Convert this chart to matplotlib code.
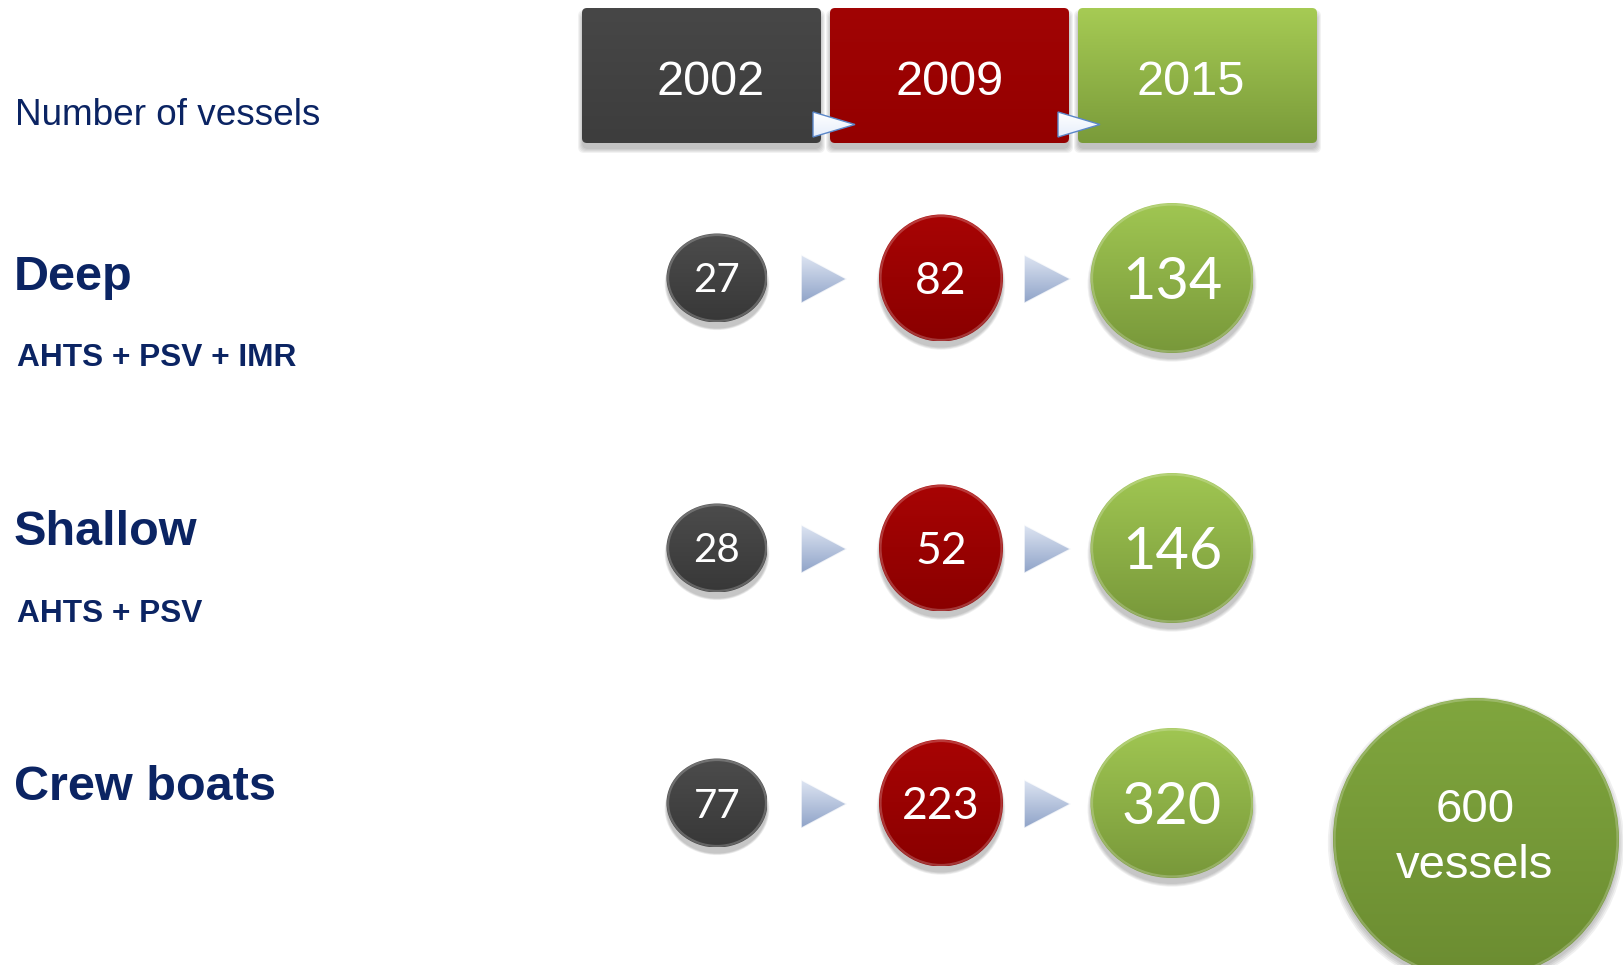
import numpy as np
import matplotlib
matplotlib.use("Agg")
import matplotlib.pyplot as plt
from matplotlib.patches import Ellipse, Polygon, FancyBboxPatch
from matplotlib.colors import to_rgb

# ---------------- data ----------------
years = ["2002", "2009", "2015"]
categories = ["Deep", "Shallow", "Crew boats"]
subtitles = ["AHTS + PSV + IMR", "AHTS + PSV", ""]
deep_values = [27, 82, 134]
shallow_values = [28, 52, 146]
crew_values = [77, 223, 320]
total_label = "600\nvessels"
header_label = "Number of vessels"

# ---------------- style ----------------
W, H = 1624, 965
NAVY = "#0b2463"
year_top = ["#474747", "#a10404", "#a6cb54"]
year_bot = ["#3d3d3d", "#940000", "#7a9b3a"]
circ_top = ["#4c4c4c", "#a80404", "#a0c652"]
circ_bot = ["#383838", "#8a0000", "#78983a"]

fig = plt.figure(figsize=(W / 100, H / 100), dpi=100)
ax = fig.add_axes([0, 0, 1, 1])
ax.set_xlim(0, W)
ax.set_ylim(H, 0)
ax.axis("off")


def grad_fill(patch, x0, x1, y0, y1, ctop, cbot, z):
    ax.add_patch(patch)
    t = np.linspace(0, 1, 128)[:, None, None]
    a, b = np.array(to_rgb(ctop)), np.array(to_rgb(cbot))
    img = a * (1 - t) + b * t
    im = ax.imshow(img, extent=[x0, x1, y1, y0], origin="upper",
                   interpolation="bilinear", zorder=z, aspect="auto")
    im.set_clip_path(patch)


def soft_shadow(cx, cy, w, h, z, dy=6, n=4, alpha=0.06):
    for k in range(n):
        s = 1 + 0.012 * k
        ax.add_patch(Ellipse((cx, cy + dy), w * s, h * s, facecolor="#000000",
                             edgecolor="none", alpha=alpha, zorder=z))


def circle(cx, cy, w, h, ctop, cbot, z=3, dy=6):
    soft_shadow(cx, cy, w, h, z - 1, dy=dy)
    e = Ellipse((cx, cy), w, h, facecolor="none", edgecolor="none", zorder=z)
    grad_fill(e, cx - w / 2, cx + w / 2, cy - h / 2, cy + h / 2, ctop, cbot, z)
    # bevel rim
    ax.add_patch(Ellipse((cx, cy), w - 3, h - 3, facecolor="none",
                         edgecolor="white", lw=1.6, alpha=0.22, zorder=z + 0.5))


def arrow(x0, x1, cy, hh, z=3):
    tri = Polygon([[x0, cy - hh / 2], [x0, cy + hh / 2], [x1, cy]], closed=True,
                  facecolor="none", edgecolor="none", zorder=z)
    grad_fill(tri, x0, x1, cy - hh / 2, cy + hh / 2, "#dfe6f3", "#8fa3c8", z)
    ax.add_patch(Polygon([[x0, cy - hh / 2], [x0, cy + hh / 2], [x1, cy]], closed=True,
                         facecolor="none", edgecolor="#ffffff", lw=1.2, alpha=0.8, zorder=z + 0.5))


# ---------------- header boxes ----------------
box_x = [582, 830, 1078]
text_dx = [9, 0, -7]
box_w, box_y0, box_y1 = 239, 8, 143
for i, yr in enumerate(years):
    x0 = box_x[i]
    for k in range(5):
        ax.add_patch(FancyBboxPatch((x0 - k, box_y0 + 6 - k), box_w + 2 * k, box_y1 - box_y0 + 2 * k,
                                    boxstyle="round,pad=0,rounding_size=6",
                                    facecolor="black", edgecolor="none", alpha=0.05, zorder=1))
    bp = FancyBboxPatch((x0, box_y0), box_w, box_y1 - box_y0,
                        boxstyle="round,pad=0,rounding_size=5",
                        facecolor="none", edgecolor="none", zorder=2)
    grad_fill(bp, x0, x0 + box_w, box_y0, box_y1, year_top[i], year_bot[i], 2)
    ax.text(x0 + box_w / 2 + text_dx[i], 95, yr, ha="center", va="baseline", color="white",
            fontsize=35, family="Liberation Sans", zorder=5)

# small white arrows in header
for xa in [813, 1058]:
    tri = Polygon([[xa, 112], [xa, 137], [xa + 42, 124.5]], closed=True,
                  facecolor="none", edgecolor="none", zorder=6)
    grad_fill(tri, xa, xa + 42, 112, 137, "#ffffff", "#e6eefb", 6)
    ax.add_patch(Polygon([[xa, 112], [xa, 137], [xa + 42, 124.5]], closed=True,
                         facecolor="none", edgecolor="#5b87c9", lw=1.0, zorder=6.5))

# ---------------- left labels ----------------
ax.text(15, 125, header_label, ha="left", va="baseline", color=NAVY, fontsize=26.6,
        family="Liberation Sans")
cat_base = [290, 545, 800]
sub_base = [366, 622, None]
for i, c in enumerate(categories):
    ax.text(14, cat_base[i], c, ha="left", va="baseline", color=NAVY, fontsize=35,
            fontweight="bold", family="Liberation Sans")
    if subtitles[i]:
        ax.text(17, sub_base[i], subtitles[i], ha="left", va="baseline", color=NAVY,
                fontsize=22.8, fontweight="bold", family="Liberation Sans")

# ---------------- circles ----------------
rows = [deep_values, shallow_values, crew_values]
row_y = [278, 548, 803]
col_x = [717, 941, 1172]
col_size = [(101, 89), (124, 127), (163, 150)]
col_font = [29, 32, 41.5]
arrow_x = [(801, 847), (1024, 1071)]

for r, vals in enumerate(rows):
    cy = row_y[r]
    for c, v in enumerate(vals):
        w, h = col_size[c]
        circle(col_x[c], cy, w, h, circ_top[c], circ_bot[c])
        fs = col_font[c]
        em = fs / 0.72
        ax.text(col_x[c], cy + 0.36 * em, str(v), ha="center", va="baseline",
                color="white", fontsize=fs, family="Lato", zorder=8)
    for (xa0, xa1) in arrow_x:
        arrow(xa0, xa1, cy + 1, 49)

# ---------------- total circle ----------------
circle(1476, 839, 286, 282, "#80a63e", "#6b8c31", dy=4)
lines = total_label.split("\n")
ax.text(1475, 822, lines[0], ha="center", va="baseline", color="white", fontsize=34,
        family="Liberation Sans", zorder=8)
ax.text(1475, 878, lines[1], ha="center", va="baseline", color="white", fontsize=34,
        family="Liberation Sans", zorder=8)

ax.set_xlim(0, W)
ax.set_ylim(H, 0)
fig.savefig("out.png", dpi=100, facecolor="white")
